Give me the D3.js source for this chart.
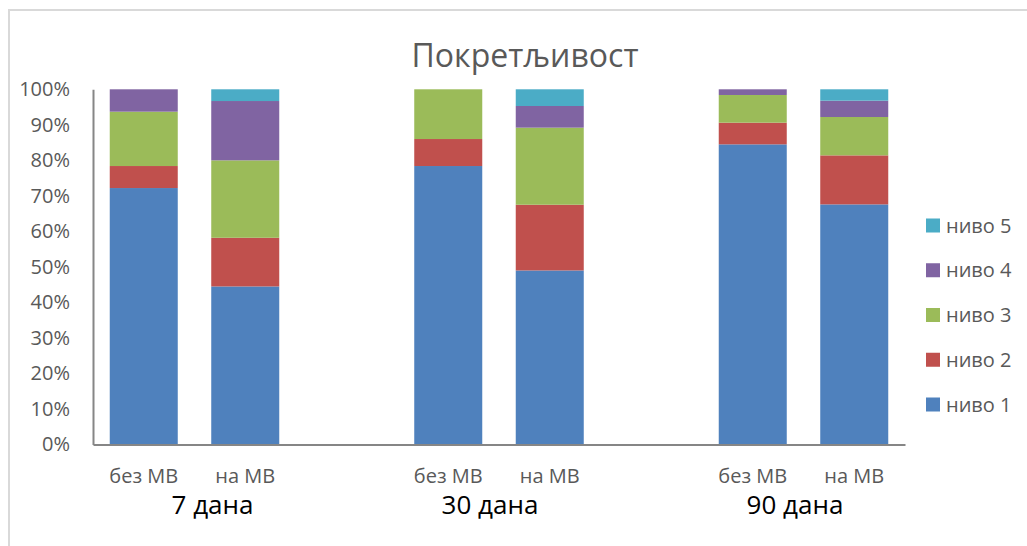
<!DOCTYPE html>
<html>
<head>
<meta charset="utf-8">
<script src="https://cdn.jsdelivr.net/npm/d3@7"></script>
<style>
  html, body { margin: 0; padding: 0; background: #fff; }
  svg { display: block; font-family: "Open Sans", "Noto Sans", sans-serif; }
</style>
</head>
<body>
<svg id="chart" width="1027" height="546"></svg>
<script>
// ---- data ----
const title = "Покретљивост";
const groups = ["7 дана", "30 дана", "90 дана"];
const subcats = ["без МВ", "на МВ"];
const seriesNames = ["ниво 1", "ниво 2", "ниво 3", "ниво 4", "ниво 5"];
// order of bars: 7/без, 7/на, 30/без, 30/на, 90/без, 90/на  (percent)
const nivo1 = [72.2, 44.5, 78.4, 49.0, 84.5, 67.6];
const nivo2 = [6.2, 13.7, 7.6, 18.5, 6.1, 13.8];
const nivo3 = [15.3, 21.8, 14.0, 21.7, 7.8, 10.8];
const nivo4 = [6.3, 16.7, 0.0, 6.1, 1.6, 4.6];
const nivo5 = [0.0, 3.3, 0.0, 4.7, 0.0, 3.2];
const yTicks = [0, 0.1, 0.2, 0.3, 0.4, 0.5, 0.6, 0.7, 0.8, 0.9, 1.0];
const colors = ["#4F81BD", "#C0504D", "#9BBB59", "#8064A2", "#4BACC6"];
const groupLabelShift = [18, -9, -8.5];

// ---- build table ----
const seriesValues = [nivo1, nivo2, nivo3, nivo4, nivo5];
const rows = [];
groups.forEach((g, gi) => subcats.forEach((s, si) => {
  const i = gi * 2 + si;
  const row = { key: i, group: g, sub: s, slot: gi * 3 + si };
  seriesNames.forEach((n, k) => row[n] = seriesValues[k][i]);
  const tot = d3.sum(seriesNames, n => row[n]);
  seriesNames.forEach(n => row[n] = row[n] / tot);
  rows.push(row);
}));
const stacked = d3.stack().keys(seriesNames)(rows);

const svg = d3.select("#chart");
const textGrey = "#595959";

// outer border
svg.append("rect").attr("x", 9).attr("y", 10).attr("width", 1040).attr("height", 560)
  .attr("fill", "none").attr("stroke", "#d9d9d9").attr("stroke-width", 2);

const x = d3.scaleBand().domain(d3.range(8)).range([93, 905])
  .paddingInner(0.33).paddingOuter(0.165);
const y = d3.scaleLinear().domain([0, 1]).range([444.5, 89.3]);
const color = d3.scaleOrdinal().domain(seriesNames).range(colors);

// title
svg.append("text").attr("x", 525).attr("y", 67).attr("text-anchor", "middle")
  .attr("font-size", 32).attr("fill", textGrey).text(title);

// bars
svg.append("g").selectAll("g").data(stacked).join("g")
  .attr("fill", d => color(d.key))
  .selectAll("rect").data(d => d).join("rect")
  .attr("x", d => x(d.data.slot))
  .attr("width", x.bandwidth())
  .attr("y", d => y(d[1]))
  .attr("height", d => Math.max(0, y(d[0]) - y(d[1])));

// y axis
const yAxis = d3.axisLeft(y).tickValues(yTicks).tickFormat(d3.format(".0%")).tickSize(0).tickPadding(23);
const yg = svg.append("g").attr("transform", "translate(93,0)").call(yAxis);
yg.select(".domain").attr("stroke", "#868686").attr("stroke-width", 2);
yg.selectAll("text").attr("font-size", 20).attr("fill", textGrey)
  .attr("font-family", "'Open Sans', 'Noto Sans', sans-serif");

// x axis
const xAxis = d3.axisBottom(x).tickValues([]).tickSize(0).tickSizeOuter(0);
const xg = svg.append("g").attr("transform", "translate(0,444.5)").call(xAxis);
xg.select(".domain").attr("stroke", "#868686").attr("stroke-width", 2);

// sub category labels
svg.append("g").selectAll("text").data(rows).join("text")
  .attr("x", d => x(d.slot) + x.bandwidth() / 2)
  .attr("y", 483)
  .attr("text-anchor", "middle")
  .attr("font-size", 20).attr("fill", textGrey)
  .text(d => d.sub);

// group labels
svg.append("g").selectAll("text").data(groups).join("text")
  .attr("x", (g, gi) => (x(gi * 3) + x(gi * 3 + 1) + x.bandwidth()) / 2 + groupLabelShift[gi])
  .attr("y", 514)
  .attr("text-anchor", "middle")
  .attr("font-size", 26).attr("fill", "#000")
  .text(d => d);

// legend (reverse order: ниво 5 on top)
const legendY = d3.scalePoint().domain(seriesNames.slice().reverse()).range([225.5, 404.5]);
const lg = svg.append("g").selectAll("g").data(seriesNames.slice().reverse()).join("g")
  .attr("transform", d => `translate(926,${legendY(d)})`);
lg.append("rect").attr("x", 0).attr("y", -7).attr("width", 14).attr("height", 14)
  .attr("fill", d => color(d));
lg.append("text").attr("x", 20).attr("y", 0).attr("dy", "0.35em")
  .attr("font-size", 20).attr("fill", textGrey).text(d => d);
</script>
</body>
</html>
